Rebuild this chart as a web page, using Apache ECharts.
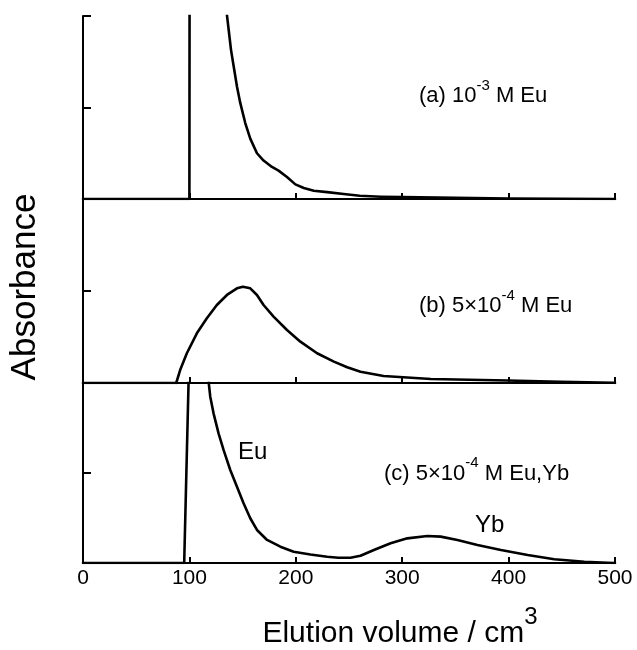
<!DOCTYPE html>
<html>
<head>
<meta charset="utf-8">
<script src="https://cdn.jsdelivr.net/npm/echarts@6/dist/echarts.min.js"></script>
<style>
html,body{margin:0;padding:0;background:#fff;}
#chart{width:637px;height:650px;}
</style>
</head>
<body>
<div id="chart"></div>
<script>
// ---- data (elution volume / cm3, absorbance in arbitrary units; panel full scale = 2) ----
const xMin = 0, xMax = 500, xStep = 100;
const yMin = 0, yMax = 2, yStep = 1;

// (a) 1e-3 M Eu : sharp front, then decaying tail (off-scale between ~100 and ~135)
const aFrontVolume = [0, 100, 100.3];
const aFrontAbs    = [0, 0, 4];
const aTailVolume  = [134.4, 135.3, 136.9, 139.1, 141.6, 144.7, 147.8, 152.5, 157.2, 163.5, 169.7, 177.6, 183.8, 191.7, 199.6, 207.5, 216.9, 229.5, 245, 260, 280, 300, 350, 400, 450, 500];
const aTailAbs     = [2.3, 2.01, 1.85, 1.63, 1.45, 1.23, 1.05, 0.83, 0.66, 0.50, 0.42, 0.35, 0.31, 0.24, 0.16, 0.12, 0.09, 0.075, 0.055, 0.035, 0.025, 0.02, 0.012, 0.006, 0.002, 0];

// (b) 5e-4 M Eu
const bFrontVolume = [0, 87.6];
const bFrontAbs    = [0, 0];
const bTailVolume  = [87.6, 91.3, 97.6, 107.0, 116.4, 125.8, 135.3, 144.7, 150.3, 157.2, 163.5, 169.7, 179.1, 191.7, 204.3, 220.0, 235.8, 248.3, 260.8, 282.5, 327, 399, 449, 499, 500];
const bTailAbs     = [0, 0.141, 0.323, 0.540, 0.703, 0.848, 0.957, 1.029, 1.047, 1.029, 0.957, 0.848, 0.721, 0.576, 0.449, 0.323, 0.232, 0.171, 0.123, 0.076, 0.043, 0.027, 0.012, 0.003, 0];

// (c) 5e-4 M Eu, Yb
const cFrontVolume = [0, 95.1, 99.2, 99.6];
const cFrontAbs    = [0, 0, 2.0, 4];
const cTailVolume  = [117.6, 118.2, 119.6, 122.7, 127.4, 132.1, 138.4, 144.7, 150.9, 157.2, 163.5, 173.0, 185.5, 198.0, 213.7, 229.5, 240, 251.4, 260.8, 273.4, 289.1, 304.8, 323.6, 336.2, 351.9, 370.7, 392.8, 417.9, 443.0, 471.2, 493.2, 500];
const cTailAbs     = [2.3, 2.0, 1.848, 1.663, 1.441, 1.256, 1.033, 0.848, 0.663, 0.497, 0.367, 0.256, 0.181, 0.126, 0.095, 0.07, 0.058, 0.058, 0.08, 0.144, 0.219, 0.274, 0.300, 0.293, 0.255, 0.200, 0.144, 0.089, 0.041, 0.014, 0.003, 0];

const panelLabels = ['(a) 10', '(b) 5\u00d710', '(c) 5\u00d710'];
const panelSups = ['-3', '-4', '-4'];
const panelTails = [' M Eu', ' M Eu', ' M Eu,Yb'];
const peakLabels = ['Eu', 'Yb'];
const xTitle = 'Elution volume / cm';
const xTitleSup = '3';
const yTitle = 'Absorbance';

// ---- layout ----
const FONT = "'Liberation Sans', Arial, Helvetica, sans-serif";
const grids = [
  {left: 83, width: 532, top: 16, height: 183},
  {left: 83, width: 532, top: 199, height: 184},
  {left: 83, width: 532, top: 383, height: 180}
];

function zip(xs, ys) { return xs.map((x, i) => [x, ys[i]]); }

const xAxes = grids.map((g, i) => ({
  type: 'value', gridIndex: i, min: xMin, max: xMax, interval: xStep,
  axisLine: {show: true, onZero: false, lineStyle: {color: '#000', width: 2}},
  axisTick: {show: true, inside: true, length: 6, lineStyle: {color: '#000', width: 2}},
  axisLabel: {show: i === 2, color: '#000', fontFamily: FONT, fontSize: 21, margin: 5},
  splitLine: {show: false},
  name: i === 2 ? '{m|' + xTitle + '}{s|' + xTitleSup + '}' : '',
  nameLocation: 'middle',
  nameGap: 42,
  nameTextStyle: {
    padding: [0, 0, 0, 102],
    rich: {
      m: {fontSize: 30, padding: [14, 0, 0, 0], verticalAlign: 'bottom', color: '#000', fontFamily: FONT},
      s: {fontSize: 24, verticalAlign: 'top', color: '#000', fontFamily: FONT}
    }
  }
}));

const yAxes = grids.map((g, i) => ({
  type: 'value', gridIndex: i, min: yMin, max: yMax, interval: yStep,
  axisLine: {show: true, lineStyle: {color: '#000', width: 2}},
  axisTick: {show: true, inside: true, length: 8, lineStyle: {color: '#000', width: 2}},
  axisLabel: {show: false},
  splitLine: {show: false},
  name: i === 1 ? yTitle : '',
  nameLocation: 'middle',
  nameGap: 40,
  nameTextStyle: {fontSize: 35, color: '#000', fontFamily: FONT, padding: [0, 0, 0, 8]}
}));

const lineStyle = {color: '#000', width: 2.6, join: 'round', cap: 'round'};
const panels = [
  [aFrontVolume, aFrontAbs, aTailVolume, aTailAbs],
  [bFrontVolume, bFrontAbs, bTailVolume, bTailAbs],
  [cFrontVolume, cFrontAbs, cTailVolume, cTailAbs]
];
const series = [];
panels.forEach((p, i) => {
  [[p[0], p[1]], [p[2], p[3]]].forEach(d => series.push({
    type: 'line', xAxisIndex: i, yAxisIndex: i, data: zip(d[0], d[1]),
    showSymbol: false, symbol: 'none', clip: true, lineStyle: lineStyle, smooth: false, silent: true
  }));
});

const labelPos = [{left: 419, top: 78}, {left: 419, top: 288}, {left: 384, top: 455.5}];
const titles = panelLabels.map((t, i) => ({
  text: '{m|' + t + '}{s|' + panelSups[i] + '}{m|' + panelTails[i] + '}',
  left: labelPos[i].left, top: labelPos[i].top, padding: 0,
  textStyle: {
    fontWeight: 'normal', color: '#000', fontFamily: FONT,
    rich: {
      m: {fontSize: 22, fontWeight: 'normal', padding: [7, 0, 0, 0], verticalAlign: 'bottom', color: '#000', fontFamily: FONT},
      s: {fontSize: 15, fontWeight: 'normal', verticalAlign: 'top', color: '#000', fontFamily: FONT}
    }
  }
}));
const peakPos = [{left: 238, top: 440}, {left: 475, top: 513}];
peakLabels.forEach((t, i) => titles.push({
  text: t, left: peakPos[i].left, top: peakPos[i].top, padding: 0,
  textStyle: {fontSize: 24, lineHeight: 24, fontWeight: 'normal', color: '#000', fontFamily: FONT}
}));

const chart = echarts.init(document.getElementById('chart'), null, {renderer: 'canvas'});
chart.setOption({
  animation: false,
  backgroundColor: '#fff',
  title: titles,
  grid: grids,
  xAxis: xAxes,
  yAxis: yAxes,
  series: series
});
</script>
</body>
</html>
